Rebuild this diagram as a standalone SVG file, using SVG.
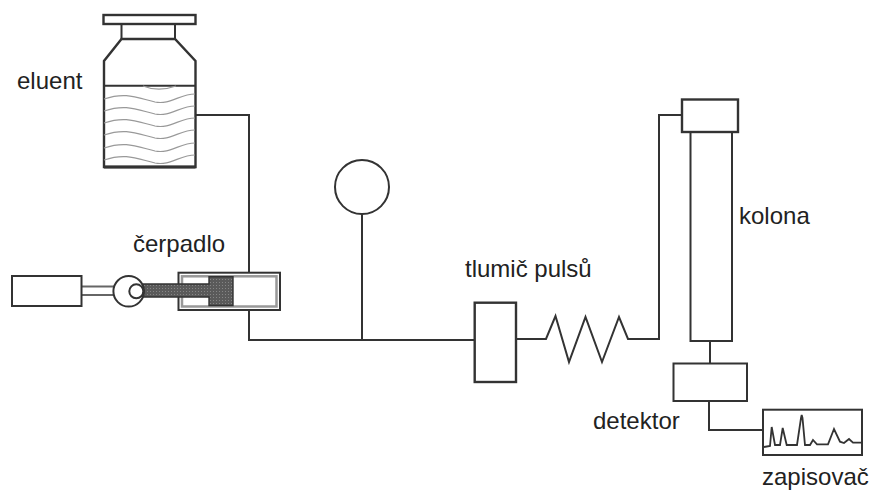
<svg xmlns="http://www.w3.org/2000/svg" width="873" height="490" viewBox="0 0 873 490">
<defs>
<pattern id="dots" width="3" height="3" patternUnits="userSpaceOnUse"><rect width="3" height="3" fill="#5a5a5a"/><rect width="1" height="1" fill="#858585"/></pattern>
</defs>
<style>
.s{fill:none;stroke:#333;stroke-width:2;stroke-linejoin:miter}
.b{fill:#fff;stroke:#333;stroke-width:2}
.h{fill:#fff;stroke:#333;stroke-width:2.400}
.w{fill:none;stroke:#999;stroke-width:1.200}
text{font-family:"Liberation Sans",Arial,sans-serif;font-size:24px;fill:#222}
</style>
<rect width="873" height="490" fill="#fff"/>
<g id="connectors">
<path class="s" d="M195.500 115H249V272M249 310V340H475"/>
<path class="s" d="M362 214V340"/>
<path class="s" d="M516 339H546L555.500 316L569 362L585.500 317L602 362L619 317L628 339H659V115H682"/>
<path class="s" d="M710 341V363.500"/>
<path class="s" d="M709 401V430H763"/>
<path d="M81.500 286.500H114M81.500 295H114" fill="none" stroke="#666" stroke-width="2"/>
</g>
<g id="eluent">
<rect class="h" x="103.500" y="15" width="92" height="9"/>
<path class="s" d="M121.500 24V39M175 24V39"/>
<path d="M121.500 39H175L195.500 61V167H104V61Z" class="h"/>
<path class="s" d="M104 85.700H195.500"/>
<path class="w" d="M143 86C155 91 165 90 176 86"/>
<path class="w" d="M104 99C125 92 135 97 155 102C170 105 180 94 195 94"/>
<path class="w" d="M104 111C125 104 135 109 155 114C170 117 180 106 195 106"/>
<path class="w" d="M104 123C125 116 135 121 155 126C170 129 180 118 195 118"/>
<path class="w" d="M104 135C125 128 135 133 155 138C170 141 180 130 195 130"/>
<path class="w" d="M104 148C125 141 135 146 155 151C170 154 180 143 195 143"/>
<path class="w" d="M104 160C125 153 135 158 155 163C170 166 180 155 195 155"/>
<path d="M104 167H195.500" fill="none" stroke="#333" stroke-width="2.800"/>
<text x="17" y="89">eluent</text>
</g>
<g id="motor"><rect class="b" x="12" y="276" width="69.500" height="30"/></g>
<g id="cerpadlo">
<rect x="178.500" y="272.700" width="101.500" height="37.300" fill="#fff" stroke="#333" stroke-width="2"/>
<rect x="182" y="276.300" width="94.500" height="30.200" fill="#fff" stroke="#999" stroke-width="2.500"/>
<path d="M143 284H209V276.700H233V305.500H209V297H143Z" fill="url(#dots)" stroke="#333" stroke-width="1.400"/>
<circle cx="128.700" cy="291.300" r="15.300" fill="none" stroke="#333" stroke-width="2"/>
<circle class="b" cx="136.300" cy="291.300" r="7"/>
<text x="133" y="252">čerpadlo</text>
</g>
<g id="manometr"><circle class="b" cx="362" cy="187" r="27"/></g>
<g id="tlumic">
<rect class="h" x="474.700" y="302.700" width="41.300" height="79.300"/>
<text x="465" y="277">tlumič pulsů</text>
</g>
<g id="kolona">
<rect class="b" x="690.500" y="132" width="41.500" height="209"/>
<rect class="h" x="682" y="99.500" width="56" height="32.500"/>
<text x="739" y="224">kolona</text>
</g>
<g id="detektor">
<rect class="b" x="673.500" y="363.500" width="73.500" height="37.500"/>
<text x="593" y="429">detektor</text>
</g>
<g id="zapisovac">
<rect class="b" x="763" y="409.700" width="99" height="45.300"/>
<path d="M764 447L770 446L771.700 427L775 445H780L782.700 428L786.700 445H797L801 418L801.700 415L802.500 418L805 445H810L813 440L817 444.300H828L834 429L840 441.700L844 443L849 439L853 442.700H861.700" fill="none" stroke="#333" stroke-width="1.800"/>
<text x="762" y="484.500">zapisovač</text>
</g>
</svg>
